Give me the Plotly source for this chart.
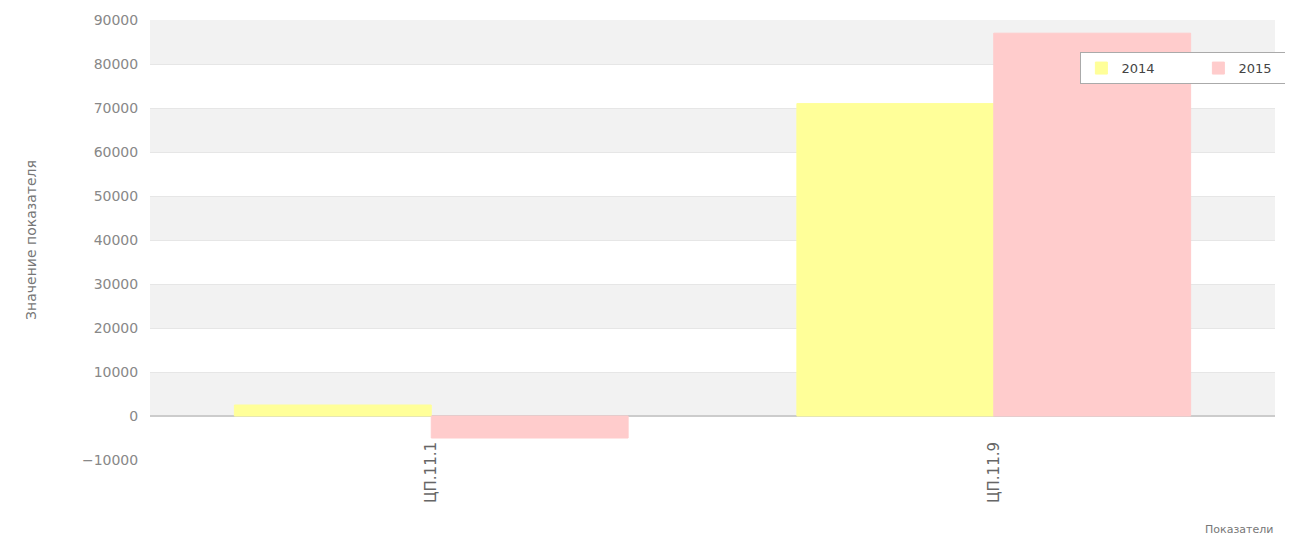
import plotly.graph_objects as go

categories = ["ЦП.11.1", "ЦП.11.9"]
series_names = ["2014", "2015"]
values_2014 = [2500, 71000]
values_2015 = [-5000, 87000]
colors = ["#ffff99", "#ffcccc"]
y_ticks = [-10000, 0, 10000, 20000, 30000, 40000, 50000, 60000, 70000, 80000, 90000]

fig = go.Figure()
for name, vals, col in zip(series_names, [values_2014, values_2015], colors):
    fig.add_trace(go.Bar(
        x=categories, y=vals, name=name,
        marker=dict(color=col, line=dict(color=col, width=1)),
    ))

# alternating background bands derived from ticks
shapes = []
for i in range(1, len(y_ticks) - 1, 2):
    shapes.append(dict(type="rect", xref="paper", yref="y", layer="below",
                       x0=0, x1=1, y0=y_ticks[i], y1=y_ticks[i + 1],
                       fillcolor="#f2f2f2", line=dict(width=0)))

fig.update_layout(
    width=1285, height=533,
    margin=dict(l=142, r=18, t=12, b=81, autoexpand=False),
    paper_bgcolor="white", plot_bgcolor="white",
    barmode="group", bargap=0.3, bargroupgap=0,
    shapes=shapes,
    font=dict(family="DejaVu Sans", size=12, color="#666666"),
    showlegend=True,
    legend=dict(orientation="h", x=0.827, y=0.927, xanchor="left", yanchor="top",
                bgcolor="white", bordercolor="#aaaaaa", borderwidth=1,
                font=dict(size=13, color="#444444"), itemwidth=30,
                entrywidth=72),
    xaxis=dict(tickangle=-90, showgrid=False, showline=False, ticks="",
               ticklabelstandoff=-22,
               tickfont=dict(size=15, color="#666666")),
    yaxis=dict(range=[-10000, 90000], tickvals=y_ticks, tickformat="d",
               showgrid=True, gridcolor="#e6e6e6", zeroline=True,
               zerolinecolor="#cccccc", zerolinewidth=2,
               tickfont=dict(size=14, color="#888888"),
               ticklen=8, ticks="outside", tickcolor="white",
               title=dict(text="Значение показателя", standoff=42,
                          font=dict(size=14, color="#777777"))),
    annotations=[dict(text="Показатели", xref="paper", yref="paper", x=1.0, y=-0.159,
                      xanchor="right", yanchor="middle", showarrow=False,
                      font=dict(size=11, color="#777777"))],
)

fig.write_html("out.html")
